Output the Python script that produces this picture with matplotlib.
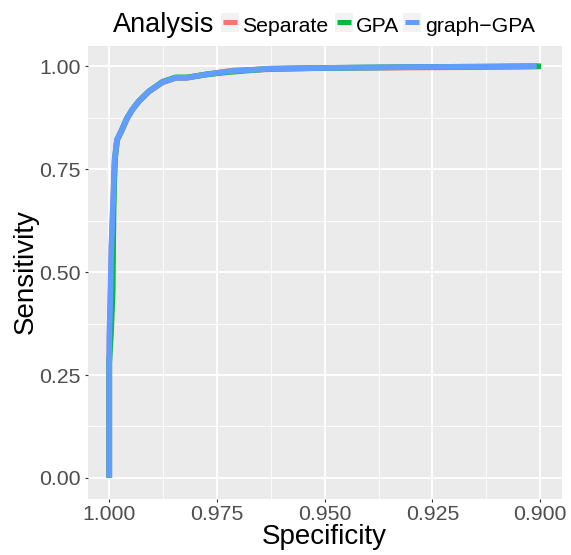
import numpy as np
import matplotlib.pyplot as plt
from matplotlib.lines import Line2D
from matplotlib.patches import Rectangle

plt.rcParams['font.family'] = ['Liberation Sans', 'DejaVu Sans']

# ROC curves (specificity, sensitivity)
spec_sep = [1.0, 1.0, 0.99990, 0.99965, 0.99945, 0.99915, 0.99895, 0.99870, 0.99815,
            0.99700, 0.99580, 0.99465, 0.99310, 0.99075, 0.98760, 0.98450, 0.98200,
            0.97990, 0.97760, 0.97100, 0.96250, 0.95000, 0.93000, 0.91500, 0.90050]
sens_sep = [0.0, 0.28, 0.35, 0.456, 0.562, 0.65, 0.70, 0.773, 0.821,
            0.846, 0.874, 0.894, 0.915, 0.939, 0.961, 0.972, 0.972,
            0.976, 0.980, 0.990, 0.993, 0.996, 0.997, 0.998, 1.0]

spec_gpa = [1.0, 1.0, 0.99960, 0.99920, 0.99910, 0.99900, 0.99890, 0.99870, 0.99820,
            0.99705, 0.99590, 0.99470, 0.99315, 0.99080, 0.98770, 0.98460, 0.98200,
            0.97990, 0.97760, 0.97230, 0.96280, 0.95000, 0.93000, 0.91500, 0.89980]
sens_gpa = [0.0, 0.28, 0.35, 0.456, 0.562, 0.65, 0.70, 0.773, 0.821,
            0.846, 0.874, 0.894, 0.915, 0.939, 0.962, 0.973, 0.973,
            0.976, 0.980, 0.986, 0.994, 0.996, 0.998, 0.999, 1.0]

spec_ggpa = [1.0, 1.0, 0.99995, 0.99970, 0.99950, 0.99920, 0.99900, 0.99876, 0.99822,
             0.99706, 0.99589, 0.99472, 0.99315, 0.99082, 0.98771, 0.98458, 0.98200,
             0.97991, 0.97757, 0.97213, 0.96278, 0.95000, 0.93000, 0.91500, 0.90080]
sens_ggpa = [0.0, 0.28, 0.35, 0.456, 0.562, 0.65, 0.70, 0.773, 0.821,
             0.846, 0.874, 0.894, 0.915, 0.939, 0.961, 0.972, 0.972,
             0.976, 0.980, 0.988, 0.994, 0.996, 0.998, 0.999, 1.0]

labels = ["Separate", "GPA", "graph\u2212GPA"]
colors = ["#F8766D", "#00BA38", "#619CFF"]
series = [(spec_sep, sens_sep), (spec_gpa, sens_gpa), (spec_ggpa, sens_ggpa)]

x_ticks = [1.000, 0.975, 0.950, 0.925, 0.900]
y_ticks = [0.00, 0.25, 0.50, 0.75, 1.00]

W, H = 571, 555
fig = plt.figure(figsize=(W / 100, H / 100), dpi=100)
ax = fig.add_axes([87.7 / W, 1 - 498.5 / H, (561.7 - 87.7) / W, (498.5 - 45.7) / H])
ax.set_facecolor("#EBEBEB")

for (sx, sy), c in zip(series, colors):
    ax.plot(sx, sy, color=c, lw=4.1, solid_capstyle="butt", solid_joinstyle="round")

ax.set_xlim(1.005, 0.895)
ax.set_ylim(-0.05, 1.05)
ax.set_xticks(x_ticks)
ax.set_xticklabels(["%.3f" % v for v in x_ticks])
ax.set_yticks(y_ticks)
ax.set_yticklabels(["%.2f" % v for v in y_ticks])
ax.set_xticks([0.9875, 0.9625, 0.9375, 0.9125], minor=True)
ax.set_yticks([0.125, 0.375, 0.625, 0.875], minor=True)
ax.grid(which="major", color="white", lw=1.3)
ax.grid(which="minor", color="white", lw=0.6)
ax.set_axisbelow(True)
for s in ax.spines.values():
    s.set_visible(False)
ax.tick_params(which="major", length=2.5, width=0.8, color="#333333",
               labelsize=15.3, labelcolor="#4D4D4D", pad=2.5)
ax.tick_params(axis="x", which="major", pad=2.0)
ax.tick_params(which="minor", length=0)

fig.text(324.7 / W, 1 - 544.3 / H, "Specificity", fontsize=20, ha="center", va="baseline")
fig.text(26 / W, 1 - 272 / H, "Sensitivity", fontsize=20, ha="center", va="center", rotation=90)

# legend on top
def fx(x):
    return x / W

def fy(y):
    return 1 - y / H

fig.text(fx(112.7), fy(31.7), "Analysis", fontsize=19.5, ha="left", va="baseline")
key_x = [221, 335, 403]
text_x = [242, 356, 425]
for kx, tx, lab, c in zip(key_x, text_x, labels, colors):
    fig.add_artist(Rectangle((fx(kx), fy(32)), 17.5 / W, 19 / H, transform=fig.transFigure,
                             facecolor="#F2F2F2", edgecolor="none"))
    fig.add_artist(Line2D([fx(kx + 1.5), fx(kx + 16)], [fy(22), fy(22)], transform=fig.transFigure,
                          color=c, lw=3.6, solid_capstyle="butt"))
    fig.text(fx(tx), fy(31.5), lab, fontsize=15.3, ha="left", va="baseline")

fig.savefig("out.png", dpi=100)
